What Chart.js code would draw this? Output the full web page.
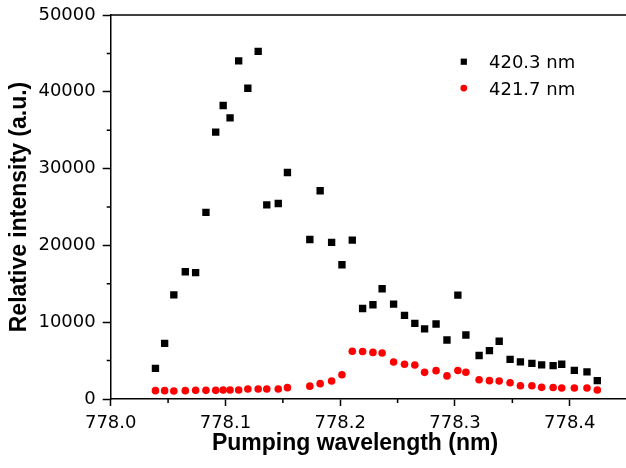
<!DOCTYPE html>
<html><head><meta charset="utf-8">
<script src="https://cdn.jsdelivr.net/npm/chart.js@4/dist/chart.umd.min.js"></script>
<style>html,body{margin:0;padding:0;overflow:hidden;background:#fff;width:626px;height:468px}canvas{display:block}</style>
</head><body><canvas id="c" width="626" height="468"></canvas>
<script>
const wavelengths = [778.039, 778.047, 778.055, 778.065, 778.074, 778.083, 778.0915, 778.098, 778.104, 778.1115,
  778.1195, 778.1285, 778.136, 778.146, 778.154, 778.1735, 778.1825, 778.1925, 778.2015, 778.2105,
  778.2195, 778.2285, 778.2365, 778.2465, 778.256, 778.265, 778.2735, 778.2835, 778.293, 778.3025,
  778.3095, 778.321, 778.330, 778.3385, 778.348, 778.357, 778.367, 778.3755, 778.3855, 778.393,
  778.404, 778.415, 778.424];
const intensity4203 = [3990, 7240, 13550, 16570, 16450, 24300, 34750, 38220, 36600, 44020,
  40460, 45270, 25280, 25460, 29490, 20770, 27120, 20400, 17480, 20690,
  11780, 12270, 14350, 12360, 10880, 9840, 9130, 9760, 7680, 13520,
  8330, 5660, 6290, 7520, 5160, 4840, 4640, 4450, 4340, 4530,
  3730, 3540, 2400];
const intensity4217 = [1085, 1085, 1040, 1085, 1127, 1127, 1127, 1170, 1170, 1170,
  1300, 1300, 1300, 1300, 1475, 1670, 2000, 2340, 3150, 6220,
  6180, 6070, 5980, 4810, 4530, 4420, 3470, 3690, 3010, 3710,
  3490, 2500, 2390, 2340, 2110, 1720, 1720, 1520, 1500, 1430,
  1430, 1430, 1170];
const seriesLabels = ['420.3 nm', '421.7 nm'];
const xTickValues = [778.0, 778.1, 778.2, 778.3, 778.4];
const xMinorTickValues = [778.05, 778.15, 778.25, 778.35];
const yTickValues = [0, 10000, 20000, 30000, 40000, 50000];
const yMinorTickValues = [5000, 15000, 25000, 35000, 45000];
const xTitle = 'Pumping wavelength (nm)';
const yTitle = 'Relative intensity (a.u.)';

const tickFont = {family: 'DejaVu Sans', size: 18};
const titleFont = {family: 'Liberation Sans', weight: 'bold', size: 23};

const extrasPlugin = {
  id: 'extras',
  afterDraw(chart) {
    const ctx = chart.ctx;
    const a = chart.chartArea;
    const xs = chart.scales.x, ys = chart.scales.y;
    ctx.save();
    ctx.strokeStyle = '#000';
    ctx.lineWidth = 1.5;
    ctx.beginPath();
    ctx.moveTo(a.left, a.top); ctx.lineTo(a.right, a.top);
    ctx.stroke();
    ctx.beginPath();
    xMinorTickValues.forEach(v => { const p = xs.getPixelForValue(v); ctx.moveTo(p, a.bottom); ctx.lineTo(p, a.bottom + 4); });
    yMinorTickValues.forEach(v => { const p = ys.getPixelForValue(v); ctx.moveTo(a.left - 4, p); ctx.lineTo(a.left, p); });
    ctx.stroke();
    const lx = 463.8, ly0 = 61.7, dy = 26.4;
    chart.data.datasets.forEach((ds, i) => {
      const y = ly0 + i * dy;
      ctx.fillStyle = ds.backgroundColor;
      Chart.helpers.drawPoint(ctx, {pointStyle: ds.pointStyle, radius: ds.legendRadius, rotation: 0, borderWidth: 0}, lx, y);
      ctx.fillStyle = '#000';
      ctx.font = '18px "DejaVu Sans"';
      ctx.textAlign = 'left';
      ctx.textBaseline = 'alphabetic';
      ctx.fillText(ds.label, 489, y + 6.6);
    });
    ctx.fillStyle = '#000';
    ctx.font = 'bold 23px "Liberation Sans"';
    ctx.textAlign = 'center';
    ctx.textBaseline = 'alphabetic';
    ctx.fillText(xTitle, 355, 450);
    ctx.restore();
  }
};

new Chart(document.getElementById('c'), {
  type: 'scatter',
  data: {
    datasets: [
      {label: seriesLabels[0], data: wavelengths.map((x, i) => ({x, y: intensity4203[i]})),
       pointStyle: 'rect', pointRadius: 5.2, legendRadius: 4.4, backgroundColor: '#000000', borderColor: '#000000', borderWidth: 0},
      {label: seriesLabels[1], data: wavelengths.map((x, i) => ({x, y: intensity4217[i]})),
       pointStyle: 'circle', pointRadius: 3.8, legendRadius: 3.4, backgroundColor: '#ff0000', borderColor: '#ff0000', borderWidth: 0}
    ]
  },
  options: {
    responsive: false, animation: false, devicePixelRatio: 1,
    layout: {autoPadding: false, padding: {top: 15, right: 0, left: 0, bottom: 0}},
    plugins: {legend: {display: false}, tooltip: {enabled: false}},
    scales: {
      x: {
        type: 'linear', min: 778.0, max: 778.449,
        afterBuildTicks: s => { s.ticks = xTickValues.map(v => ({value: v})); },
        afterFit: s => { s.height = 69; s.paddingLeft = 0; s.paddingRight = 0; },
        ticks: {callback: v => Number(v).toFixed(1), font: tickFont, color: '#000', padding: 7, maxRotation: 0, autoSkip: false},
        grid: {drawOnChartArea: false, drawTicks: true, tickLength: 7, tickColor: '#000', tickWidth: 1.5},
        border: {display: true, color: '#000', width: 1.5},
        title: {display: false}
      },
      y: {
        type: 'linear', min: 0, max: 50000,
        afterBuildTicks: s => { s.ticks = yTickValues.map(v => ({value: v})); },
        afterFit: s => { s.width = 110.7; s.paddingTop = 0; s.paddingBottom = 0; },
        ticks: {callback: v => String(v), font: tickFont, color: '#000', padding: 7, autoSkip: false},
        grid: {drawOnChartArea: false, drawTicks: true, tickLength: 8, tickColor: '#000', tickWidth: 1.5},
        border: {display: true, color: '#000', width: 1.5},
        title: {display: true, text: yTitle, font: titleFont, color: '#000', padding: {top: 6, bottom: 0}}
      }
    }
  },
  plugins: [extrasPlugin]
});
</script>
</body></html>
